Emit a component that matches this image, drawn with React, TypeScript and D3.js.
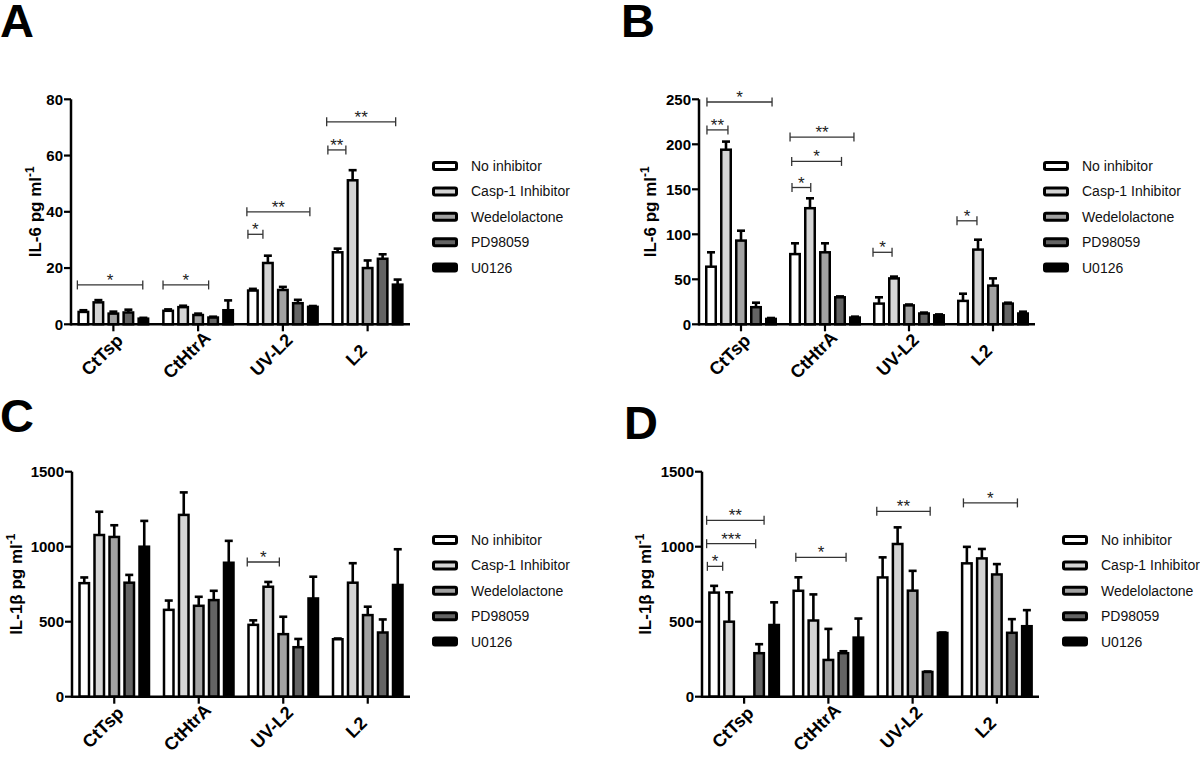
import React from "react";
import * as d3 from "d3";

const groups = ["CtTsp", "CtHtrA", "UV-L2", "L2"];
const seriesNames = ["No inhibitor", "Casp-1 Inhibitor", "Wedelolactone", "PD98059", "U0126"];
const seriesFills = ["#ffffff", "#d4d4d4", "#a2a2a2", "#646464", "#000000"];

// Panel A: IL-6 pg/ml (rows = series, cols = groups)
const aMean = [
  [4.4, 4.8, 12.0, 25.6],
  [7.8, 6.1, 21.8, 51.2],
  [3.8, 3.3, 12.2, 20.0],
  [4.2, 2.4, 7.5, 23.3],
  [2.0, 5.0, 6.2, 14.1],
];
const aErr = [
  [0.6, 0.5, 0.6, 1.3],
  [0.8, 0.5, 2.6, 3.6],
  [0.7, 0.5, 1.1, 2.7],
  [1.0, 0.3, 1.2, 1.6],
  [0.3, 3.5, 0.3, 1.8],
];
const aTicks = [0, 20, 40, 60, 80];
const aBrackets = [
  { g: 0, from: 0, to: 4.36, v: 14, label: "*" },
  { g: 1, from: 0.06, to: 3.1, v: 14, label: "*" },
  { g: 2, from: 0.07, to: 1.07, v: 32, label: "*" },
  { g: 2, from: 0, to: 4.2, v: 40, label: "**" },
  { g: 3, from: -0.25, to: 0.95, v: 62, label: "**" },
  { g: 3, from: -0.33, to: 4.27, v: 72, label: "**" },
];

// Panel B: IL-6 pg/ml
const bMean = [
  [64, 78, 23, 26],
  [194, 129, 51, 83],
  [93, 80, 21, 43],
  [19, 30, 12, 23],
  [6, 7.5, 10, 12],
];
const bErr = [
  [16, 12, 7, 8],
  [9, 11, 2, 11],
  [11, 10, 1, 8],
  [5, 1, 1, 1],
  [1, 1, 1, 2],
];
const bTicks = [0, 50, 100, 150, 200, 250];
const bBrackets = [
  { g: 0, from: 0.13, to: 4.47, v: 247, label: "*" },
  { g: 0, from: 0.13, to: 1.53, v: 216, label: "**" },
  { g: 1, from: 0.07, to: 4.33, v: 208, label: "**" },
  { g: 1, from: 0.18, to: 3.5, v: 181, label: "*" },
  { g: 1, from: 0.2, to: 1.45, v: 152, label: "*" },
  { g: 2, from: 0, to: 1.27, v: 80, label: "*" },
  { g: 3, from: 0, to: 1.33, v: 115, label: "*" },
];

// Panel C: IL-1beta pg/ml
const cMean = [
  [757, 579, 479, 383],
  [1078, 1212, 733, 760],
  [1065, 606, 417, 544],
  [760, 644, 330, 428],
  [1000, 893, 655, 745],
];
const cErr = [
  [38, 62, 30, 5],
  [155, 150, 32, 130],
  [78, 60, 116, 56],
  [52, 62, 55, 87],
  [172, 146, 145, 238],
];
const cdTicks = [0, 500, 1000, 1500];
const cBrackets = [{ g: 2, from: 0, to: 2.14, v: 898, label: "*" }];

// Panel D: IL-1beta pg/ml (CtTsp Wedelolactone not shown)
const dMean = [
  [694, 706, 795, 889],
  [500, 508, 1018, 922],
  [null, 245, 707, 815],
  [290, 290, 165, 426],
  [478, 394, 425, 470],
];
const dErr = [
  [45, 90, 134, 110],
  [196, 174, 111, 63],
  [null, 207, 132, 69],
  [60, 13, 3, 91],
  [151, 127, 3, 107],
];
const dBrackets = [
  { g: 0, from: -0.1, to: 3.73, v: 1176, label: "**" },
  { g: 0, from: -0.1, to: 3.17, v: 1020, label: "***" },
  { g: 0, from: -0.05, to: 0.97, v: 869, label: "*" },
  { g: 1, from: 0.23, to: 3.58, v: 929, label: "*" },
  { g: 2, from: 0.01, to: 3.57, v: 1236, label: "**" },
  { g: 3, from: 0.17, to: 3.77, v: 1292, label: "*" },
];

const FONT = "Arial, 'Liberation Sans', Helvetica, sans-serif";

const panels = [
  { letter: "A", lx: 0, lyb: 37, x0: 71, x1: 410, yTop: 99.3, yBottom: 324.3, yMax: 80, ticks: aTicks, mean: aMean, err: aErr, brackets: aBrackets, ylab: "IL-6 pg ml", ylabX: 35, legX: 432, legY: 166 },
  { letter: "B", lx: 621, lyb: 37, x0: 699, x1: 1035, yTop: 99.3, yBottom: 324.3, yMax: 250, ticks: bTicks, mean: bMean, err: bErr, brackets: bBrackets, ylab: "IL-6 pg ml", ylabX: 650, legX: 1043, legY: 166 },
  { letter: "C", lx: 0, lyb: 432, x0: 72, x1: 410, yTop: 471.7, yBottom: 696.7, yMax: 1500, ticks: cdTicks, mean: cMean, err: cErr, brackets: cBrackets, ylab: "IL-1\u03b2 pg ml", ylabX: 16, legX: 432, legY: 540 },
  { letter: "D", lx: 624, lyb: 439, x0: 702, x1: 1039, yTop: 471.7, yBottom: 696.7, yMax: 1500, ticks: cdTicks, mean: dMean, err: dErr, brackets: dBrackets, ylab: "IL-1\u03b2 pg ml", ylabX: 645, legX: 1062, legY: 540 },
];

function Panel({ p }: { p: any }) {
  const x = d3.scaleBand<string>().domain(groups).range([p.x0, p.x1]).padding(0);
  const y = d3.scaleLinear().domain([0, p.yMax]).range([p.yBottom, p.yTop]);
  const slot = d3.scaleLinear().domain([0, 4.8]).range([-36, 36]);
  const cx = (gi: number) => (x(groups[gi]) as number) + x.bandwidth() / 2;
  const sw = 2.5;
  const barW = 12;
  const marks: any[] = [];
  const errs: any[] = [];
  seriesNames.forEach((_, si) => {
    groups.forEach((g, gi) => {
      const m = p.mean[si][gi];
      if (m == null) return;
      const e = p.err[si][gi] || 0;
      const left = cx(gi) + slot(si);
      const mid = left + barW / 2;
      errs.push(
        <g key={`e${si}-${gi}`} stroke="#000" strokeWidth={2.6}>
          <line x1={mid} x2={mid} y1={y(m)} y2={y(m + e)} />
          <line x1={mid - 4} x2={mid + 4} y1={y(m + e)} y2={y(m + e)} />
        </g>
      );
      marks.push(
        <rect
          key={`b${si}-${gi}`}
          x={left + sw / 2}
          y={y(m)}
          width={barW - sw}
          height={y(0) - y(m)}
          fill={seriesFills[si]}
          stroke="#000"
          strokeWidth={sw}
        />
      );
    });
  });
  const ymid = (p.yTop + p.yBottom) / 2;
  return (
    <g fontFamily={FONT}>
      <text x={p.lx} y={p.lyb} fontSize={47} fontWeight="bold">{p.letter}</text>
      {errs}
      {marks}
      {/* axes */}
      <line x1={p.x0} x2={p.x0} y1={p.yTop} y2={p.yBottom + 1.2} stroke="#000" strokeWidth={2.5} />
      <line x1={p.x0} x2={p.x1} y1={p.yBottom} y2={p.yBottom} stroke="#000" strokeWidth={2.5} />
      {p.ticks.map((t: number) => (
        <g key={`t${t}`}>
          <line x1={p.x0 - 7} x2={p.x0} y1={y(t)} y2={y(t)} stroke="#000" strokeWidth={2.2} />
          <text x={p.x0 - 8} y={y(t)} dy="0.36em" textAnchor="end" fontSize={15} fontWeight="bold">{t}</text>
        </g>
      ))}
      {groups.map((g, gi) => (
        <g key={`x${g}`}>
          <line x1={cx(gi)} x2={cx(gi)} y1={p.yBottom} y2={p.yBottom + 7} stroke="#000" strokeWidth={2.2} />
          <text
            transform={`translate(${cx(gi) - 7},${p.yBottom + 35}) rotate(-45)`}
            textAnchor="middle"
            fontSize={18}
            fontWeight="bold"
          >
            {g}
          </text>
        </g>
      ))}
      <text transform={`translate(${p.ylabX + 6},${ymid}) rotate(-90)`} textAnchor="middle" fontSize={17} fontWeight="bold">
        {p.ylab}
        <tspan dy={-7} fontSize={12}>-1</tspan>
      </text>
      {/* significance brackets */}
      {p.brackets.map((b: any, i: number) => {
        const xa = cx(b.g) + slot(b.from);
        const xb = cx(b.g) + slot(b.to);
        const yy = y(b.v);
        return (
          <g key={`k${i}`} stroke="#333" strokeWidth={1.3}>
            <line x1={xa} x2={xb} y1={yy} y2={yy} />
            <line x1={xa} x2={xa} y1={yy - 4.5} y2={yy + 4.5} />
            <line x1={xb} x2={xb} y1={yy - 4.5} y2={yy + 4.5} />
            <text x={(xa + xb) / 2} y={yy + 1} textAnchor="middle" fontSize={17} stroke="none" fill="#222">{b.label}</text>
          </g>
        );
      })}
      {/* legend */}
      {seriesNames.map((s, si) => {
        const cy = p.legY + si * 25.4;
        return (
          <g key={`l${si}`}>
            <rect x={p.legX + 1.5} y={cy - 3.5} width={23} height={7} rx={1.5} fill={seriesFills[si]} stroke="#000" strokeWidth={3} />
            <text x={p.legX + 39} y={cy} dy="0.35em" fontSize={14} fill="#111">{s}</text>
          </g>
        );
      })}
    </g>
  );
}

export default function App() {
  return (
    <svg
      width={1200}
      height={757}
      viewBox="0 0 1200 757"
      style={{ position: "absolute", left: 0, top: 0, background: "#fff" }}
    >
      <rect width={1200} height={757} fill="#fff" />
      {panels.map((p) => (
        <Panel key={p.letter} p={p} />
      ))}
    </svg>
  );
}
